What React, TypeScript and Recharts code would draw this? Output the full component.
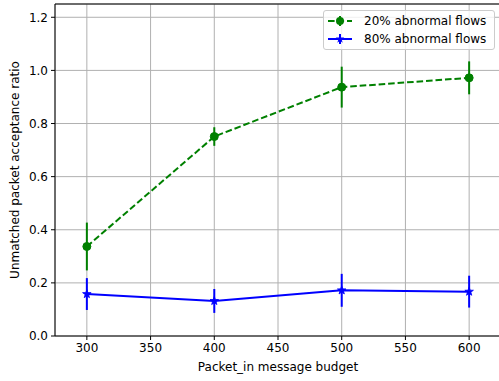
import { CartesianGrid, ComposedChart, ErrorBar, Line, ReferenceLine, XAxis, YAxis } from "recharts";

const budgets = [300, 400, 500, 600];
const abnormal20 = [0.337, 0.751, 0.937, 0.972];
const abnormal20Err = [0.09, 0.035, 0.077, 0.062];
const abnormal80 = [0.158, 0.132, 0.172, 0.167];
const abnormal80Err = [0.06, 0.045, 0.062, 0.06];
const xTicks = [300, 350, 400, 450, 500, 550, 600];
const yTicks = [0, 0.2, 0.4, 0.6, 0.8, 1.0, 1.2];

const data = budgets.map((b, i) => ({
    budget: b,
    p20: abnormal20[i],
    p20Err: abnormal20Err[i],
    p80: abnormal80[i],
    p80Err: abnormal80Err[i],
}));

const FONT = "'DejaVu Sans', sans-serif";
const GREEN = "#008000";
const BLUE = "#0000ff";

function starPath(cx: number, cy: number, r: number) {
    const inner = r * 0.4;
    let d = "";
    for (let k = 0; k < 10; k++) {
        const rad = k % 2 === 0 ? r : inner;
        const a = -Math.PI / 2 + (k * Math.PI) / 5;
        d += (k === 0 ? "M" : "L") + (cx + rad * Math.cos(a)).toFixed(2) + "," + (cy + rad * Math.sin(a)).toFixed(2);
    }
    return d + "Z";
}

const StarDot = (props: any) => {
    const { cx, cy, key } = props;
    if (cx == null || cy == null) return null;
    return <path key={key} d={starPath(cx, cy, 4.5)} fill={BLUE} stroke={BLUE} strokeWidth={0.8} />;
};

// legend drawn as plain html over the plot, so it takes no room from the chart
const LegendBox = () => (
    <div
        style={{
            position: "absolute",
            left: 323,
            top: 10,
            background: "rgba(255,255,255,0.8)",
            border: "1px solid #cccccc",
            borderRadius: 3,
            padding: "1px 0",
            fontFamily: FONT,
            fontSize: 12,
            color: "#000",
            width: 172,
            boxSizing: "border-box",
        }}
    >
        <div style={{ display: "flex", alignItems: "center", height: 18 }}>
            <svg width={40} height={18}>
                <line x1={4} y1={9} x2={28} y2={9} stroke={GREEN} strokeWidth={2} strokeDasharray="6.6 2.9" />
                <line x1={16} y1={4} x2={16} y2={14} stroke={GREEN} strokeWidth={2} />
                <circle cx={16} cy={9} r={4} fill={GREEN} />
            </svg>
            <span>20% abnormal flows</span>
        </div>
        <div style={{ display: "flex", alignItems: "center", height: 18 }}>
            <svg width={40} height={18}>
                <line x1={4} y1={9} x2={28} y2={9} stroke={BLUE} strokeWidth={2} />
                <line x1={16} y1={4} x2={16} y2={14} stroke={BLUE} strokeWidth={2} />
                <path d={starPath(16, 9, 4.5)} fill={BLUE} />
            </svg>
            <span>80% abnormal flows</span>
        </div>
    </div>
);

export default function App() {
    return (
        <div style={{ position: "absolute", left: 0, top: 0, width: 499, height: 381, overflow: "hidden", background: "#fff" }}>
            <ComposedChart width={503} height={381} data={data} margin={{ top: 4, right: 2, bottom: 0, left: 0 }}>
                <CartesianGrid stroke="#b0b0b0" strokeWidth={1} />
                <XAxis
                    dataKey="budget"
                    type="number"
                    domain={[275, 625]}
                    ticks={xTicks}
                    allowDataOverflow
                    height={45}
                    tickSize={4}
                    tickMargin={3}
                    stroke="#000"
                    tick={{ fill: "#000", fontSize: 12, fontFamily: FONT }}
                    label={{ value: "Packet_in message budget", position: "insideBottom", offset: 10, fill: "#000", fontSize: 12, fontFamily: FONT }}
                />
                <YAxis
                    type="number"
                    domain={[0, 1.25]}
                    ticks={yTicks}
                    allowDataOverflow
                    width={55}
                    tickSize={4}
                    tickMargin={3}
                    stroke="#000"
                    tickFormatter={(v: number) => v.toFixed(1)}
                    tick={{ fill: "#000", fontSize: 12, fontFamily: FONT }}
                    label={{ value: "Unmatched packet acceptance ratio", angle: -90, position: "insideLeft", offset: 15, style: { textAnchor: "middle" }, fill: "#000", fontSize: 12, fontFamily: FONT }}
                />
                <ReferenceLine y={1.25} stroke="#000" strokeWidth={1} />
                <Line
                    type="linear"
                    dataKey="p20"
                    name="20% abnormal flows"
                    stroke={GREEN}
                    strokeWidth={2}
                    strokeDasharray="6.6 2.9"
                    dot={{ r: 4, fill: GREEN, stroke: GREEN, strokeWidth: 1, strokeDasharray: "" }}
                    activeDot={false}
                    isAnimationActive={false}
                >
                    <ErrorBar dataKey="p20Err" direction="y" width={0} stroke={GREEN} strokeWidth={2} />
                </Line>
                <Line
                    type="linear"
                    dataKey="p80"
                    name="80% abnormal flows"
                    stroke={BLUE}
                    strokeWidth={2}
                    dot={StarDot}
                    activeDot={false}
                    isAnimationActive={false}
                >
                    <ErrorBar dataKey="p80Err" direction="y" width={0} stroke={BLUE} strokeWidth={2} />
                </Line>
            </ComposedChart>
            <LegendBox />
        </div>
    );
}
